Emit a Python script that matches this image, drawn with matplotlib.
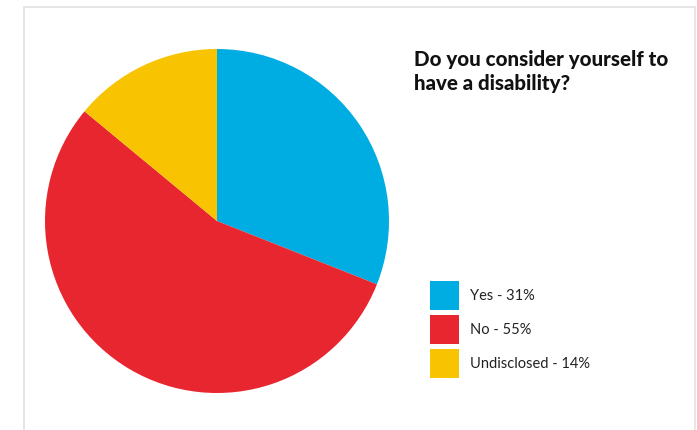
import matplotlib
matplotlib.use("Agg")
import matplotlib.pyplot as plt
from matplotlib.patches import Rectangle

# survey answers
labels = ["Yes", "No", "Undisclosed"]
shares = [31, 55, 14]
colors = ["#00ADE2", "#E8262F", "#F8C300"]

W, H = 697, 430
fig = plt.figure(figsize=(W / 100, H / 100), dpi=100)
fig.patch.set_facecolor("white")

# light frame around the card
fig.patches.append(Rectangle((24 / W, -0.05), 671 / W, 1.05 - 6.5 / H,
                             transform=fig.transFigure, fill=False,
                             edgecolor="#e2e2e2", linewidth=1.2))

# pie axes, placed in pixels
ax = fig.add_axes([45 / W, (H - 393) / H, 344 / W, 344 / H])
ax.pie(shares, colors=colors, startangle=90, counterclock=False, radius=1,
       wedgeprops=dict(linewidth=0))
ax.set_xlim(-1, 1)
ax.set_ylim(-1, 1)
ax.set_aspect("equal")
ax.axis("off")

fig.text(414 / W, 1 - 50 / H, "Do you consider yourself to\nhave a disability?",
         family="Lato", weight="black", fontsize=14.8, va="top", ha="left",
         linespacing=1.3, color="#111111")

# legend swatches and text
for i, (lab, val, col) in enumerate(zip(labels, shares, colors)):
    top = 281 + i * 34
    fig.patches.append(Rectangle((430 / W, 1 - (top + 29) / H), 29 / W, 29 / H,
                                 transform=fig.transFigure, color=col, linewidth=0))
    fig.text(470 / W, 1 - (top + 15) / H, f"{lab} - {val}%", family="Lato",
             fontsize=10.5, va="center", ha="left", color="#222222")

fig.savefig("out.png", dpi=100)
